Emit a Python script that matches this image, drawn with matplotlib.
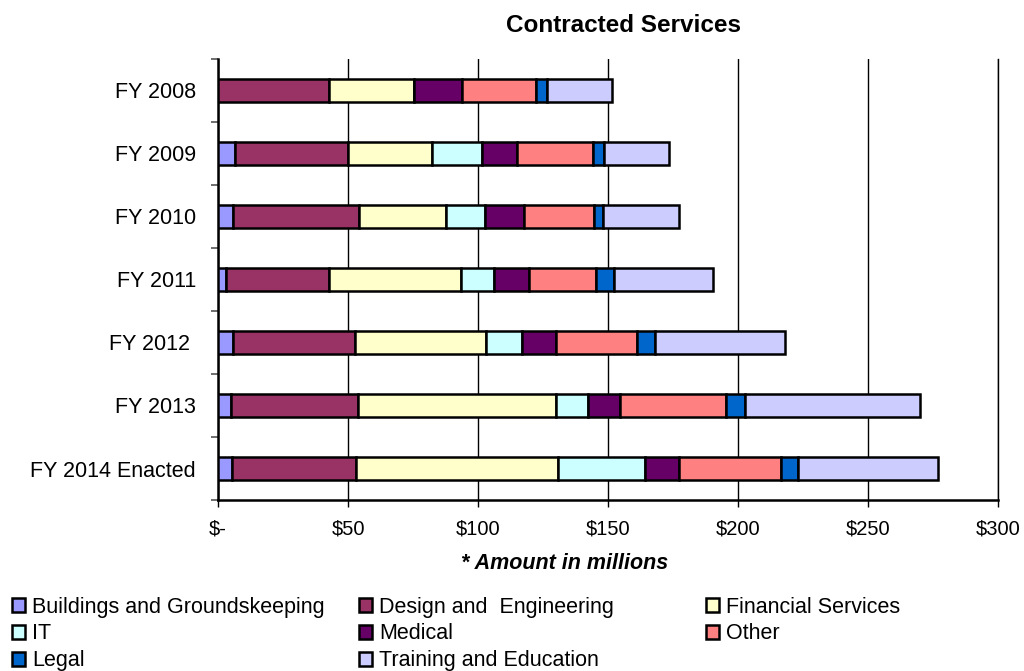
import matplotlib
matplotlib.use("Agg")
import matplotlib.pyplot as plt
from matplotlib.patches import Patch
from matplotlib.ticker import FixedLocator

plt.rcParams["font.family"] = ["Liberation Sans", "DejaVu Sans"]

YEARS = ["FY 2008", "FY 2009", "FY 2010", "FY 2011", "FY 2012 ", "FY 2013", "FY 2014 Enacted"]
SERIES = ["Buildings and Groundskeeping", "Design and  Engineering", "Financial Services",
          "IT", "Medical", "Other", "Legal", "Training and Education"]
# $ millions per year, in SERIES order
BUILDINGS = [0.0, 6.5, 5.9, 3.1, 5.6, 5.0, 5.5]
DESIGN    = [42.7, 43.4, 48.3, 39.7, 46.9, 48.8, 47.4]
FINANCIAL = [32.8, 32.5, 33.4, 50.7, 50.6, 76.2, 77.8]
IT        = [0.0, 19.1, 15.2, 12.8, 13.9, 12.3, 33.5]
MEDICAL   = [18.2, 13.4, 14.8, 13.2, 13.0, 12.3, 13.1]
OTHER     = [28.6, 29.4, 27.0, 25.9, 31.0, 40.8, 39.1]
LEGAL     = [4.4, 4.2, 3.5, 6.9, 7.1, 7.3, 6.8]
TRAINING  = [25.0, 25.0, 29.1, 38.2, 50.0, 67.3, 53.8]
VALUES = [BUILDINGS, DESIGN, FINANCIAL, IT, MEDICAL, OTHER, LEGAL, TRAINING]
COLORS = ["#9999FF", "#993366", "#FFFFCC", "#CCFFFF", "#660066", "#FF8080", "#0066CC", "#CCCCFF"]
XTICKS = [0, 50, 100, 150, 200, 250, 300]
XLABELS = ["$-", "$50", "$100", "$150", "$200", "$250", "$300"]

fig = plt.figure(figsize=(10.24, 6.71), dpi=100)
ax = fig.add_axes([0.2129, 0.2548, 0.7617, 0.6577])

ypos = list(range(len(YEARS)))
left = [0.0] * len(YEARS)
for vals, col, name in zip(VALUES, COLORS, SERIES):
    ax.barh(ypos, vals, left=left, height=0.37, color=col, edgecolor="black",
            linewidth=1.8, label=name, zorder=3)
    left = [l + v for l, v in zip(left, vals)]

ax.set_xlim(0, 300)
ax.set_ylim(len(YEARS) - 0.5, -0.5)
ax.set_xticks(XTICKS)
ax.set_xticklabels(XLABELS, fontsize=14.5)
ax.set_yticks(ypos)
ax.set_yticklabels(YEARS, fontsize=15.5)
ax.tick_params(axis="y", which="major", length=0, pad=16)
ax.yaxis.set_minor_locator(FixedLocator([i - 0.5 for i in range(len(YEARS) + 1)]))
ax.tick_params(axis="y", which="minor", length=5, width=1.2, direction="out", color="#555")
ax.tick_params(axis="x", length=5, width=1, direction="out", pad=9)
ax.grid(axis="x", color="black", linewidth=1, zorder=0)
ax.axvline(300, color="black", linewidth=1, clip_on=False, zorder=0)
for s in ("top", "right"):
    ax.spines[s].set_visible(False)
for s in ("left", "bottom"):
    ax.spines[s].set_linewidth(1.8)

fig.text(0.6085, 0.962, "Contracted Services", ha="center", va="center",
         fontsize=17.5, fontweight="bold")
fig.text(0.551, 0.160, "* Amount in millions", ha="center", va="center",
         fontsize=15.5, fontweight="bold", style="italic")

# legend laid out row-wise in three columns
handles = [Patch(facecolor=c, edgecolor="black", linewidth=1.8) for c in COLORS]
cols_x = [0.0117, 0.3506, 0.6895]
for ci, x in enumerate(cols_x):
    idx = list(range(ci, len(SERIES), 3))
    fig.legend([handles[i] for i in idx], [SERIES[i] for i in idx],
               loc="upper left", bbox_to_anchor=(x, 0.111), frameon=False,
               fontsize=15.5, handlelength=0.62, handleheight=0.62,
               handletextpad=0.3, labelspacing=0.27, borderpad=0, borderaxespad=0)

fig.savefig("out.png", dpi=100)
